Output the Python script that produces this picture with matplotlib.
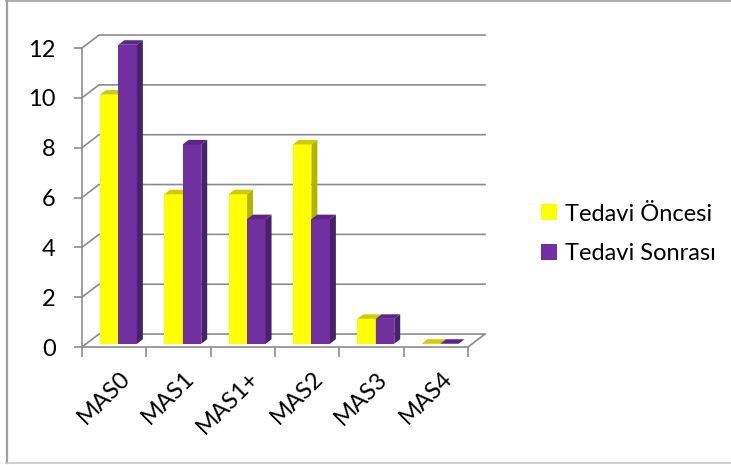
import numpy as np
import matplotlib
matplotlib.use("Agg")
import matplotlib.pyplot as plt
from matplotlib.patches import Polygon, Patch
from matplotlib.lines import Line2D

plt.rcParams['font.family'] = ['Lato', 'DejaVu Sans']
sz = 17

categories = ["MAS0", "MAS1", "MAS1+", "MAS2", "MAS3", "MAS4"]
before = [10, 6, 6, 8, 1, 0]
after = [12, 8, 5, 5, 1, 0]
series_names = ["Tedavi Öncesi", "Tedavi Sonrası"]
yticks = [0, 2, 4, 6, 8, 10, 12]

# front / side / top face colours for each series
faces = [("#FFFF00", "#B3B300", "#CCCC00"),
         ("#7030A0", "#4A1F6B", "#5A2785")]
grid_col = "#8C8C8C"

# depth of the back wall in data units, bar depth as a fraction of it
DX, DY = 0.264, 0.52
f_off, f_depth = 0.25, 0.35
W = 0.288

W_PX, H_PX = 731, 465
fig = plt.figure(figsize=(W_PX / 100, H_PX / 100), dpi=100)
ax = fig.add_axes([82 / W_PX, (H_PX - 347) / H_PX, (468 - 82) / W_PX, (347 - 48) / H_PX])
ax.set_xlim(-0.5, len(categories) - 0.5)
ax.set_ylim(0, 12)
ax.patch.set_visible(False)

x_left, x_right = -0.5, len(categories) - 0.5

# walls: gridlines running from the front axis back and across the back wall
for v in yticks:
    ax.plot([x_left, x_left + DX, x_right + DX], [v, v + DY, v + DY],
            color=grid_col, lw=1.2, clip_on=False, zorder=1, solid_joinstyle='miter')
ax.plot([x_right, x_right + DX], [0, DY], color=grid_col, lw=1.2, clip_on=False, zorder=1)

# 3d columns
ox, oy = f_off * DX, f_off * DY
bdx, bdy = f_depth * DX, f_depth * DY
idx = np.arange(len(categories))
for s, vals in enumerate([before, after]):
    front, side, top = faces[s]
    x0 = idx - W + s * W + ox
    ax.bar(x0, vals, width=W, bottom=oy, align='edge', color=front, zorder=3 + s, clip_on=False)
    for xi, h in zip(x0, vals):
        ax.add_patch(Polygon([(xi + W, oy), (xi + W + bdx, oy + bdy),
                              (xi + W + bdx, oy + h + bdy), (xi + W, oy + h)],
                             closed=True, color=side, lw=0, zorder=3 + s, clip_on=False))
        ax.add_patch(Polygon([(xi, oy + h), (xi + bdx, oy + h + bdy),
                              (xi + W + bdx, oy + h + bdy), (xi + W, oy + h)],
                             closed=True, color=top, lw=0, zorder=3 + s, clip_on=False))

for side_name in ["top", "right"]:
    ax.spines[side_name].set_visible(False)
for side_name in ["left", "bottom"]:
    ax.spines[side_name].set_color(grid_col)
    ax.spines[side_name].set_linewidth(1.2)
    ax.spines[side_name].set_zorder(2)

ax.set_yticks(yticks)
ax.set_yticklabels([str(v) for v in yticks])
ax.tick_params(axis='y', length=6, width=1.2, color=grid_col, pad=13, labelsize=sz)

ax.set_xticks(np.arange(len(categories) + 1) - 0.5)
ax.set_xticklabels([])
ax.tick_params(axis='x', which='major', length=7, width=1.2, color=grid_col)
ax.set_xticks(idx + 0.08, minor=True)
ax.set_xticklabels(categories, minor=True, rotation=45, ha='right', va='top',
                   rotation_mode='anchor', fontsize=sz)
ax.tick_params(axis='x', which='minor', length=0, pad=15)

handles = [Patch(facecolor=faces[i][0], edgecolor='none') for i in range(2)]
fig.legend(handles, series_names, loc='center left', bbox_to_anchor=(532 / W_PX, 1 - 234 / H_PX),
           frameon=False, fontsize=sz, handlelength=0.65, handleheight=0.65,
           handletextpad=0.35, labelspacing=0.8, borderaxespad=0)

# outer frame of the chart area
fig.add_artist(Line2D([6.5 / W_PX, 6.5 / W_PX], [1 - 463 / H_PX, 1 - 1.5 / H_PX],
                      transform=fig.transFigure, color="#A0A0A0", lw=1.6))
fig.add_artist(Line2D([6 / W_PX, 1], [1 - 1.5 / H_PX, 1 - 1.5 / H_PX],
                      transform=fig.transFigure, color="#A0A0A0", lw=1.2))
fig.add_artist(Line2D([6 / W_PX, 1], [1 - 463 / H_PX, 1 - 463 / H_PX],
                      transform=fig.transFigure, color="#C8C8C8", lw=1.2))

plt.savefig("out.png", dpi=100)
